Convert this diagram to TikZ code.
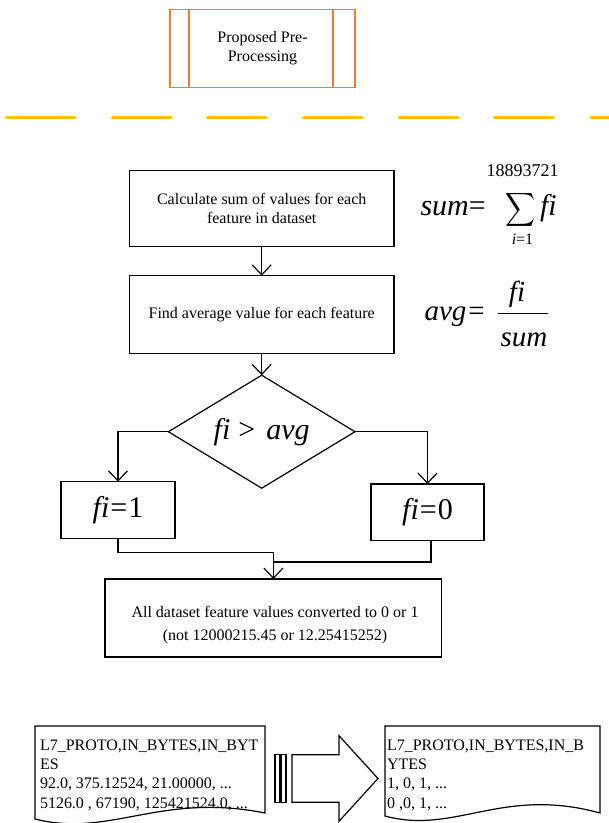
\documentclass[tikz,border=0pt]{standalone}
\usepackage{fontspec}
\setmainfont{Liberation Serif}
\usepackage{graphicx}
\usetikzlibrary{arrows.meta,shapes.geometric}
\definecolor{pporange}{HTML}{ED7D31}
\definecolor{ppyellow}{HTML}{FFC000}
\begin{document}
\begin{tikzpicture}[x=1pt,y=-1pt,
  every node/.style={inner sep=0pt, outer sep=0pt},
  txt/.style={font=\fontsize{16}{19.3}\selectfont},
  procbox/.style={draw, line width=1.2pt, align=center, txt},
  conn/.style={line width=1.2pt},
  arr/.style={conn, -{Straight Barb[length=10pt,width=19pt]}},
  bigf/.style={font=\fontsize{30}{36}\selectfont},
  midf/.style={font=\fontsize{30}{34}\selectfont},
  doctext/.style={anchor=north west, align=left, txt},
  docshape/.style={line width=1.2pt}
]
\useasboundingbox (0,0) rectangle (609,823);

% top predefined-process box
\node[draw=pporange, line width=1.6pt, minimum width=185pt, minimum height=78pt,
      align=center, txt] (pre) at (262.5,48.3) {Proposed Pre-\\Processing};
\draw[pporange, line width=1.6pt] ([xshift=19pt]pre.north west) -- ([xshift=19pt]pre.south west);
\draw[pporange, line width=1.6pt] ([xshift=-22.3pt]pre.north east) -- ([xshift=-22.3pt]pre.south east);

% dashed separator
\foreach \a/\b in {4.7/76.5, 110.7/172.8, 205.8/268, 302/364, 397.7/460, 493/555, 589.5/616}
  \draw[ppyellow, line width=3.3pt, line cap=round] (\a+1.6,117.3) -- (\b-1.6,117.3);

% flowchart
\node[procbox, minimum width=264.7pt, minimum height=76pt] (b1) at (261.7,208.7)
  {Calculate sum of values for each\\feature in dataset};
\node[procbox, minimum width=264.7pt, minimum height=77.6pt] (b2) at (261.7,314.5)
  {Find average value for each feature};
\node[draw, diamond, shape aspect=1.65, line width=1.2pt, minimum width=186.6pt,
      minimum height=113pt, midf] (dec) at (261.7,431.7)
  {\textit{fi}\hspace{8pt}>\hspace{11pt}\textit{avg}};
\node[procbox, minimum width=114pt, minimum height=57pt, midf] (f1) at (118,510.2)
  {\textit{fi}\hspace{1pt}=\hspace{1pt}1};
\node[procbox, minimum width=113pt, minimum height=56.7pt, midf] (f0) at (427.5,512.3)
  {\textit{fi}\hspace{1pt}=\hspace{1pt}0};
\node[draw, line width=1.2pt, minimum width=336.7pt, minimum height=78pt] (bb) at (273.4,618) {};
\node[align=center, font=\fontsize{16}{23.4}\selectfont] (bbt) at (275,625)
  {All dataset feature values converted to 0 or 1\\(not 12000215.45 or 12.25415252)};

\coordinate (m1) at (273.4,552.7);
\coordinate (m2) at (273.4,562);

\draw[arr] (b1.south) -- (b2.north);
\draw[arr] (b2.south) -- (dec.north);
\draw[arr] (dec.west) -| (f1.north);
\draw[arr] (dec.east) -| (f0.north);
\draw[arr] (f1.south) |- (m1) -- (bb.north);
\draw[conn] ([xshift=3.5pt]f0.south) |- (m2);

% formula: sum
\node[anchor=base west, bigf] (sumlhs) at (420.5,215) {\textit{sum}=};
\node[anchor=base] (sigma) at (521,216) {\smash{\scalebox{2.08}[2.35]{$\displaystyle\sum$}}};
\node[font=\fontsize{18}{18}\selectfont] (upl) at (522.5,171) {18893721};
\node[font=\fontsize{16}{16}\selectfont] (lowl) at (522.5,239.5) {\textit{i}=1};
\node[anchor=base west, bigf] (sumfi) at (540,215) {\textit{fi}};

% formula: avg
\node[anchor=base west, font=\fontsize{29}{34}\selectfont] (avglhs) at (424.5,320) {\textit{avg}\hspace{2pt}=};
\node[anchor=base, font=\fontsize{29}{34}\selectfont] (avgnum) at (517,301) {\textit{fi}};
\node[anchor=base, font=\fontsize{29}{34}\selectfont] (avgden) at (524,346) {\textit{sum}};
\draw[line width=1.3pt] (498,313.3) -- (548,313.3);

% documents
\draw[docshape] (35,726) -- (265,726) -- (265,813) .. controls (160,792) and (110,838) .. (35,819) -- cycle;
\node[doctext] (ldoc) at (40,739.5)
  {L7\_PROTO,IN\_BYTES,IN\_BYT\\ES\\92.0, 375.12524, 21.00000, ...\\5126.0 , 67190, 125421524.0, ...};
\draw[docshape] (385,726) -- (600,726) -- (600,813) .. controls (502,786) and (455,835) .. (385,816) -- cycle;
\node[doctext] (rdoc) at (387,739.5)
  {L7\_PROTO,IN\_BYTES,IN\_B\\YTES\\1, 0, 1, ...\\0 ,0, 1, ...};

% block arrow
\draw[line width=1.2pt] (275,754.7) rectangle (280,802.3);
\draw[line width=1.2pt] (281,754.7) rectangle (286,802.3);
\draw[line width=1.2pt] (292,754.7) -- (339,754.7) -- (339,735.7) -- (378,778.5)
  -- (339,821.3) -- (339,802.3) -- (292,802.3) -- cycle;
\end{tikzpicture}
\end{document}
